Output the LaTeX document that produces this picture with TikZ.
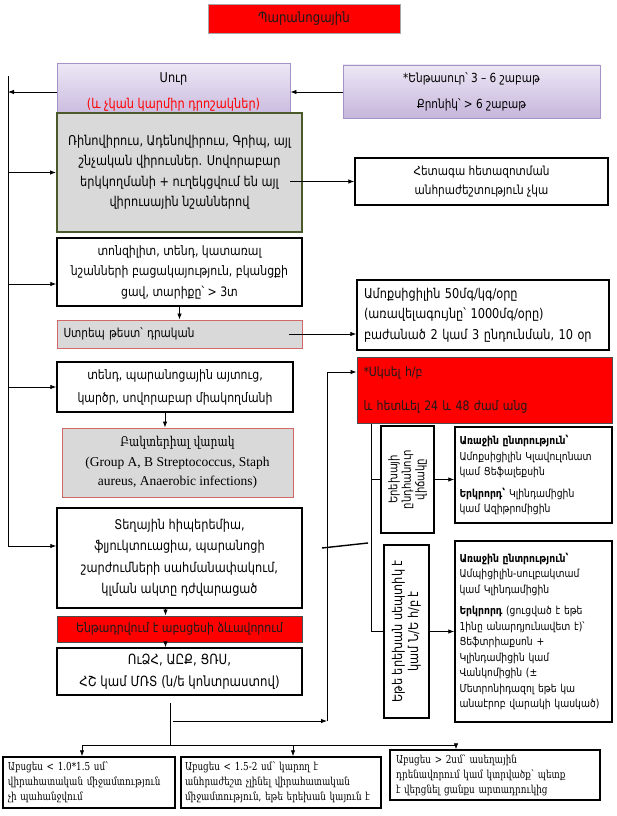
\documentclass[tikz,border=0pt]{standalone}
\usepackage{fontspec}
\setmainfont{DejaVu Sans}[FakeStretch=0.84]
\newfontfamily\serifarm{DejaVu Serif}[FakeStretch=0.80]
\newfontfamily\timesfont{Liberation Serif}
\usetikzlibrary{arrows.meta,shadows}
\definecolor{neckred}{HTML}{FF0000}
\definecolor{neckink}{HTML}{1A1A1A}
\definecolor{neckpurpletop}{HTML}{EDE7F5}
\definecolor{neckpurplebot}{HTML}{C6B6DC}
\definecolor{neckpurpleline}{HTML}{A493C6}
\definecolor{neckgrey}{HTML}{D9D9D9}
\definecolor{neckolive}{HTML}{4B5A2A}
\definecolor{neckpink}{HTML}{D06868}
\tikzset{
  neck box/.style={
    draw=black,
    line width=1.5pt,
    fill=white,
    align=center,
    inner sep=3pt,
    font=\fontsize{13}{20.5}\selectfont,
  },
  neck title/.style={
    draw=black!35,
    line width=0.8pt,
    fill=neckred,
    text=neckink,
    font=\fontsize{14}{16}\selectfont,
    drop shadow={opacity=0.35, shadow xshift=1.2pt, shadow yshift=-1.4pt},
  },
  neck purple/.style={
    draw=neckpurpleline,
    line width=0.9pt,
    top color=neckpurpletop,
    bottom color=neckpurplebot,
    align=center,
    font=\fontsize{12.5}{26}\selectfont,
    drop shadow={opacity=0.3, shadow xshift=1.2pt, shadow yshift=-1.4pt},
  },
  neck grey/.style={neck box, fill=neckgrey, draw=neckolive, line width=2pt},
  neck pink/.style={neck box, fill=neckgrey, draw=neckpink, line width=0.9pt},
  neck alarm/.style={neck box, fill=neckred, draw=black!70, line width=1pt, text=neckink},
  neck drug/.style={neck box, align=left, font=\fontsize{11}{15.5}\selectfont},
  neck turned/.style={
    neck box,
    rotate=90,
    inner sep=2pt,
    font=\fontsize{12}{13.5}\selectfont,
  },
  neck bottom/.style={
    neck box,
    align=left,
    font=\serifarm\fontsize{11}{15}\selectfont,
  },
  neck flow/.style={-{Latex[length=6pt,width=4.5pt]}, line width=0.8pt},
  neck line/.style={line width=0.8pt},
}

\begin{document}
\begin{tikzpicture}[x=1pt, y=-1pt]
  \useasboundingbox (0,0) rectangle (617,816);

  % --- title ---
  \node[neck title, minimum width=192pt, minimum height=29pt] (title) at (304,18.5) {Պարանոցային};

  % --- acute / subacute ---
  \node[neck purple, minimum width=233pt, minimum height=57pt, font=\fontsize{13.5}{26}\selectfont] (sur) at (173.5,92)
    {Սուր\\\textcolor{neckred}{(և չկան կարմիր դրոշակներ)}};
  \node[neck purple, minimum width=257pt, minimum height=53pt] (sub) at (471.5,91.5)
    {*Ենթասուր՝ 3 – 6 շաբաթ\\Քրոնիկ՝ > 6 շաբաթ};
  \draw[neck flow, {Latex[length=6pt,width=4.5pt]}-] (sur.east) -- (sur.east -| sub.west);

  % --- left column ---
  \node[neck grey, minimum width=245pt, minimum height=119pt, font=\fontsize{13.5}{20.5}\selectfont] (grey) at (179.5,172.5)
    {Ռինովիրուս, Ադենովիրուս, Գրիպ, այլ\\շնչական վիրուսներ. Սովորաբար\\երկկողմանի + ուղեկցվում են այլ\\վիրուսային նշաններով};
  \node[neck box, minimum width=253pt, minimum height=47pt, font=\fontsize{12.5}{19}\selectfont] (hetaga) at (481.5,181.5)
    {Հետագա հետազոտման\\անհրաժեշտություն չկա};
  \node[neck box, minimum width=245pt, minimum height=68pt] (tonz) at (179.5,272)
    {տոնզիլիտ, տենդ, կատառալ\\նշանների բացակայություն, բկանցքի\\ցավ, տարիքը՝ > 3տ};
  \node[neck pink, minimum width=245pt, minimum height=28pt, text width=232pt, align=left, font=\fontsize{12.5}{15}\selectfont] (strep) at (179.5,334)
    {Ստրեպ թեստ՝ դրական};
  \node[neck box, minimum width=252pt, minimum height=70pt, text width=238pt, align=left, font=\fontsize{13.5}{20.5}\selectfont] (amox) at (483,315)
    {Ամոքսիցիլին 50մգ/կգ/օրը\\(առավելագույնը՝ 1000մգ/օրը)\\բաժանած 2 կամ 3 ընդունման, 10 օր};
  \node[neck box, minimum width=236pt, minimum height=50pt, font=\fontsize{13}{23}\selectfont] (tend) at (175,387)
    {տենդ, պարանոցային այտուց,\\կարծր, սովորաբար միակողմանի};
  \node[neck pink, minimum width=231pt, minimum height=69pt, font=\fontsize{13.5}{19.5}\selectfont] (bact) at (177.5,462.5)
    {{\serifarm Բակտերիալ վարակ}\\{\timesfont (Group A, B Streptococcus, Staph}\\{\timesfont aureus, Anaerobic infections)}};
  \node[neck box, minimum width=245pt, minimum height=100pt, font=\fontsize{13.5}{21.5}\selectfont] (tegh) at (179.5,558)
    {Տեղային հիպերեմիա,\\ֆլյուկտուացիա, պարանոցի\\շարժումների սահմանափակում,\\կլման ակտը դժվարացած};
  \node[neck alarm, minimum width=245pt, minimum height=26pt, font=\fontsize{13}{15}\selectfont] (absc) at (179.5,629)
    {Ենթադրվում է աբսցեսի ձևավորում};
  \node[neck box, minimum width=245pt, minimum height=47pt, font=\fontsize{14}{22}\selectfont] (uzh) at (179.5,671.5)
    {ՈւՁՀ, ԱԸՔ, ՑՌՍ,\\ՀՇ կամ ՄՌՏ (ն/ե կոնտրաստով)};

  % --- antibiotics branch ---
  \node[neck alarm, minimum width=255pt, minimum height=66pt, text width=242pt, align=left, font=\fontsize{13}{34}\selectfont] (start) at (484.5,390)
    {*Սկսել հ/բ\\և հետևել 24 և 48 ժամ անց};
  \node[neck turned, minimum width=107pt, minimum height=53pt] (rot1) at (407.5,479.5)
    {Երեխայի\\ընդհանուր\\վիճակը};
  \node[neck drug, minimum width=157pt, minimum height=96pt, text width=148pt] (r1) at (533.5,475)
    {{\bfseries Առաջին ընտրություն՝}\\Ամոքսիցիլին Կլավուլոնատ\\կամ Ցեֆալեքսին\\[6pt]{\bfseries Երկրորդ՝} Կլինդամիցին\\կամ Ազիթրոմիցին};
  \node[neck turned, minimum width=173pt, minimum height=45pt, font=\fontsize{13.5}{16}\selectfont] (rot2) at (406.5,631.5)
    {Եթե երեխան սեպտիկ է\\կամ Ն/Ե հ/բ է};
  \node[neck drug, minimum width=157pt, minimum height=181pt, text width=148pt] (r2) at (533.5,631.5)
    {{\bfseries Առաջին ընտրություն՝}\\Ամպիցիլին-սուլբակտամ\\կամ Կլինդամիցին\\[6pt]{\bfseries Երկրորդ} (ցուցված է եթե\\1ինը անարդյունավետ է)՝\\Ցեֆտրիաքսոն +\\Կլինդամիցին կամ\\Վանկոմիցին (±\\Մետրոնիդազոլ եթե կա\\անաէրոբ վարակի կասկած)};

  % --- abscess size ---
  \node[neck bottom, minimum width=172pt, minimum height=51pt, text width=162pt] (b1) at (89,782.5)
    {Աբսցես < 1.0*1.5 սմ՝\\վիրահատական միջամտություն\\չի պահանջվում};
  \node[neck bottom, minimum width=200pt, minimum height=51pt, text width=192pt] (b2) at (281,782.5)
    {Աբսցես < 1.5-2 սմ՝ կարող է\\անհրաժեշտ չլինել վիրահատական\\միջամտություն, եթե երեխան կայուն է};
  \node[neck bottom, minimum width=210pt, minimum height=50pt, text width=198pt] (b3) at (495,775)
    {Աբսցես > 2սմ՝ ասեղային\\դրենավորում կամ կտրվածք՝ պետք\\է վերցնել ցանքս արտադրուկից};

  % --- left spine ---
  \coordinate (ltop) at (8,76);
  \coordinate (lbot) at (8,546);
  \draw[neck line] (ltop) -- (lbot);
  \draw[neck flow] (sur.west) -- (sur.west -| ltop);
  \draw[neck flow] (grey.west -| ltop) -- (grey.west);
  \draw[neck flow] ([yshift=-12pt]tonz.west -| ltop) -- ([yshift=-12pt]tonz.west);
  \draw[neck flow] (tend.west -| ltop) -- (tend.west);
  \draw[neck flow] (lbot) -- (lbot -| tegh.west);

  % --- left column flow ---
  \draw[neck flow] ([xshift=-13pt]grey.east |- hetaga.west) -- (hetaga.west);
  \draw[neck flow] (tonz.south) -- (strep.north);
  \draw[neck flow] ([xshift=-13pt]strep.east) -- (strep.east -| amox.west);
  \draw[neck flow] ([xshift=-10pt]tend.south) -- ([xshift=-10pt]tend.south |- bact.north);
  \draw[neck flow] ([xshift=-14pt]tegh.south) -- ([xshift=-14pt]tegh.south |- absc.north);
  \draw[neck flow] ([xshift=-14pt]absc.south) -- ([xshift=-14pt]absc.south |- uzh.north);

  % --- split below imaging ---
  \coordinate (utop) at (170,703);
  \coordinate (split) at (170,745);
  \coordinate (d1) at (82,745);
  \coordinate (d2) at (293,745);
  \coordinate (d3) at (456,745);
  \draw[neck line] (utop) -- (split);
  \draw[neck line] (d1) -- (d3);
  \draw[neck flow] (d1) -- (d1 |- b1.north);
  \draw[neck flow] (d2) -- (d2 |- b2.north);
  \draw[neck flow] (d3) -- (d3 |- b3.north);

  % --- back up to antibiotics ---
  \coordinate (mstart) at (173,721);
  \coordinate (mbot) at (327,721);
  \coordinate (mtop) at (327,372);
  \draw[neck flow] (mstart) -- (mbot);
  \draw[neck flow] (mbot) -- (mtop) -- (mtop -| start.west);
  \draw[line width=1.4pt] (322,548) -- (368,543);

  % --- child state branches ---
  \coordinate (rx) at (371,0);
  \draw[neck line] (rx |- start.south) -- (rx |- rot2.center);
  \draw[neck line] (rx |- rot1.center) -- (rot1.north);
  \draw[neck line] (rx |- rot2.center) -- (rot2.north);
  \draw[neck flow] (rot1.south) -- (rot1.south -| r1.west);
  \draw[neck flow] (rot2.south) -- (rot2.south -| r2.west);

\end{tikzpicture}
\end{document}
